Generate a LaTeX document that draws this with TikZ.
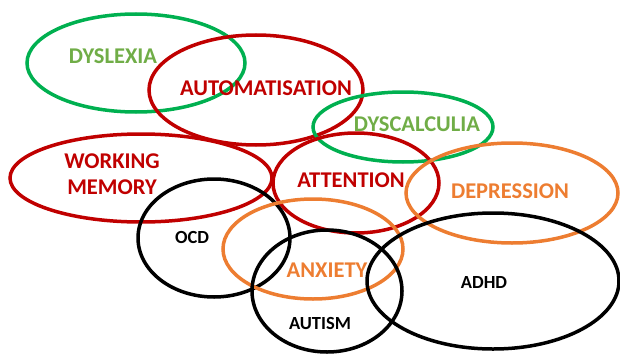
\documentclass[tikz,border=0pt]{standalone}
\usepackage{fontspec}
\setmainfont{Carlito}

\definecolor{ringred}{RGB}{192,0,0}
\definecolor{ringgreen}{RGB}{0,176,80}
\definecolor{wordgreen}{RGB}{112,173,71}
\definecolor{ringorange}{RGB}{237,125,49}

\begin{document}
\begin{tikzpicture}
  [
    x = 1pt, y = -1pt, line width = 3.5pt,
    every node/.style = {font = \bfseries\fontsize{22.5}{26}\selectfont,
                         align = center, inner sep = 0pt},
    small/.style = {font = \bfseries\fontsize{18.5}{21}\selectfont}
  ]
  \useasboundingbox (0,0) rectangle (620,353);

  % rings
  \draw [ringgreen]  (136,63)  ellipse (109 and 49);   % dyslexia
  \draw [ringred]    (256,90)  ellipse (107 and 55);   % automatisation
  \draw [ringgreen]  (403,127) ellipse (90 and 35);    % dyscalculia
  \draw [ringred]    (141,178) ellipse (131 and 44);   % working memory
  \draw [ringred]    (356,183) ellipse (83 and 50);    % attention
  \draw [ringorange] (512,193) ellipse (106 and 50);   % depression
  \draw [black]      (214,238) ellipse (76 and 59);    % ocd
  \draw [ringorange] (313,249) ellipse (90 and 50);    % anxiety
  \draw [black]      (327,291) ellipse (75 and 61);    % autism
  \draw [black]      (493,281) ellipse (126 and 68);   % adhd

  % labels
  \node [wordgreen]  (Dyslexia) at (113,56)  {DYSLEXIA};
  \node [ringred]    (Automat)  at (266,88)  {AUTOMATISATION};
  \node [wordgreen]  (Dyscalc)  at (417,124) {DYSCALCULIA};
  \node [ringred]    (Working)  at (112,174) {WORKING\\MEMORY};
  \node [ringred]    (Attent)   at (351,180) {ATTENTION};
  \node [ringorange] (Depress)  at (510,191) {DEPRESSION};
  \node [ringorange] (Anxiety)  at (327,270) {ANXIETY};
  \node [small]      (Ocd)      at (192,237) {OCD};
  \node [small]      (Autism)   at (320,323) {AUTISM};
  \node [small]      (Adhd)     at (484,282) {ADHD};
\end{tikzpicture}
\end{document}
